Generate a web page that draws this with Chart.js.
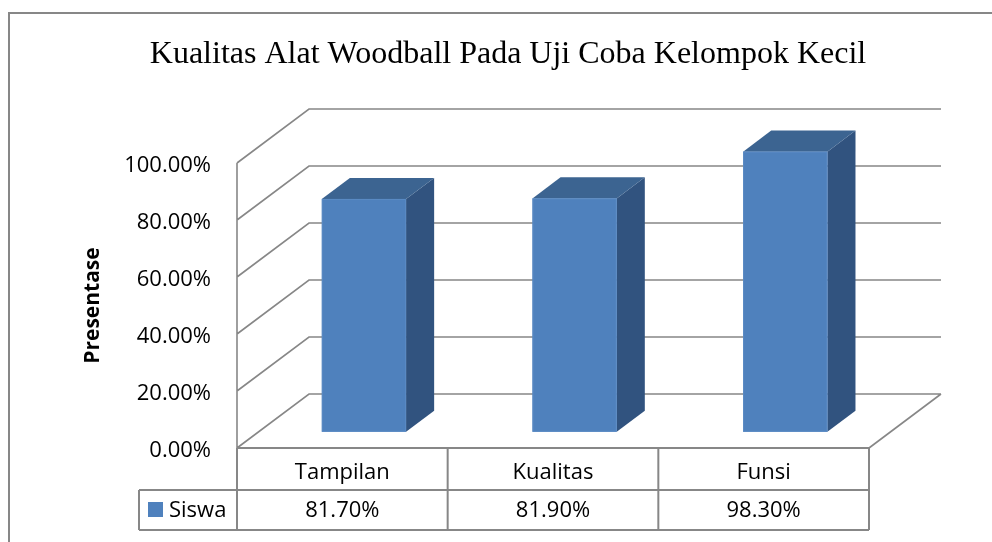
<!DOCTYPE html>
<html>
  <head>
    <meta charset="UTF-8" />
    <title>Kualitas Alat Woodball Pada Uji Coba Kelompok Kecil</title>
    <script src="https://cdn.jsdelivr.net/npm/chart.js"></script>
    <style>
      body {
        margin: 0;
        background: #fff;
      }
      #wrap {
        width: 992px;
        height: 542px;
        position: relative;
      }
    </style>
  </head>
  <body>
    <div id="wrap"><canvas id="woodballChart"></canvas></div>

    <script>
      // Data.
      const chartTitle = "Kualitas Alat Woodball Pada Uji Coba Kelompok Kecil";
      const axisTitle = "Presentase";
      const seriesName = "Siswa";
      const categories = ["Tampilan", "Kualitas", "Funsi"];
      const siswaValues = [0.817, 0.819, 0.983];

      const sansFont = "'Open Sans', sans-serif";
      const gridColor = "#878787";
      const barFront = "#4F81BD";
      const barSide = "#31537F";
      const barTop = "#3C6491";

      // Depth of the 3D box (back wall offset) and the bars' place inside it.
      const depthX = 72;
      const depthY = -54;
      const barStart = 0.3;
      const barEnd = 0.69;

      function pct(v) {
        return (v * 100).toFixed(2) + "%";
      }

      // Draws the frame, title, walls, 3D bars and the data table.
      const threeDPlugin = {
        id: "threeD",
        beforeDraw(chart) {
          const ctx = chart.ctx;
          ctx.save();
          ctx.fillStyle = "#fff";
          ctx.fillRect(0, 0, chart.width, chart.height);
          ctx.strokeStyle = gridColor;
          ctx.lineWidth = 2;
          ctx.strokeRect(9, 13, chart.width + 20, chart.height + 20);
          ctx.fillStyle = "#000";
          ctx.font = "32px 'Liberation Serif', serif";
          ctx.textAlign = "center";
          ctx.textBaseline = "alphabetic";
          ctx.fillText(chartTitle, 508, 63);
          ctx.restore();
        },
        beforeDatasetsDraw(chart) {
          const ctx = chart.ctx;
          const yScale = chart.scales.y;
          const area = chart.chartArea;
          ctx.save();
          ctx.strokeStyle = gridColor;
          ctx.lineWidth = 1.6;
          ctx.beginPath();
          yScale.ticks.forEach(t => {
            const py = yScale.getPixelForValue(t.value);
            // left wall diagonal
            ctx.moveTo(area.left, py);
            ctx.lineTo(area.left + depthX, py + depthY);
            // back wall gridline
            ctx.lineTo(area.right + depthX, py + depthY);
          });
          // front edge of the left wall
          ctx.moveTo(area.left, yScale.getPixelForValue(0));
          ctx.lineTo(area.left, yScale.getPixelForValue(yScale.max));
          // floor right edge
          ctx.moveTo(area.right, yScale.getPixelForValue(0));
          ctx.lineTo(area.right + depthX, yScale.getPixelForValue(0) + depthY);
          ctx.stroke();
          ctx.restore();
        },
        afterDatasetsDraw(chart) {
          const ctx = chart.ctx;
          const meta = chart.getDatasetMeta(0);
          const ox = depthX * barStart;
          const oy = depthY * barStart;
          const bx = depthX * (barEnd - barStart);
          const by = depthY * (barEnd - barStart);
          ctx.save();
          meta.data.forEach(bar => {
            const p = bar.getProps(["x", "y", "base", "width"], true);
            const xl = p.x - p.width / 2 + ox;
            const xr = p.x + p.width / 2 + ox;
            const top = p.y + oy;
            const bottom = p.base + oy;
            // side face
            ctx.fillStyle = barSide;
            ctx.beginPath();
            ctx.moveTo(xr, top);
            ctx.lineTo(xr + bx, top + by);
            ctx.lineTo(xr + bx, bottom + by);
            ctx.lineTo(xr, bottom);
            ctx.closePath();
            ctx.fill();
            // top face
            ctx.fillStyle = barTop;
            ctx.beginPath();
            ctx.moveTo(xl, top);
            ctx.lineTo(xl + bx, top + by);
            ctx.lineTo(xr + bx, top + by);
            ctx.lineTo(xr, top);
            ctx.closePath();
            ctx.fill();
            // front face
            ctx.fillStyle = barFront;
            ctx.fillRect(xl, top, xr - xl, bottom - top);
            ctx.strokeStyle = "#5A8AC4";
            ctx.lineWidth = 1;
            ctx.strokeRect(xl + 0.5, top + 0.5, xr - xl - 1, bottom - top - 1);
          });
          ctx.restore();
        },
        afterDraw(chart) {
          // data table under the plot
          const ctx = chart.ctx;
          const area = chart.chartArea;
          const xScale = chart.scales.x;
          const y0 = chart.scales.y.getPixelForValue(0);
          const rowMid = 490;
          const rowBottom = 530;
          const legendLeft = 139;
          const colW = (area.right - area.left) / categories.length;
          ctx.save();
          ctx.strokeStyle = gridColor;
          ctx.lineWidth = 2;
          ctx.beginPath();
          ctx.moveTo(area.left, y0);
          ctx.lineTo(area.right, y0);
          ctx.moveTo(legendLeft, rowMid);
          ctx.lineTo(area.right, rowMid);
          ctx.moveTo(legendLeft, rowBottom);
          ctx.lineTo(area.right, rowBottom);
          ctx.moveTo(legendLeft, rowMid);
          ctx.lineTo(legendLeft, rowBottom);
          for (let i = 0; i <= categories.length; i++) {
            const cx = area.left + i * colW;
            ctx.moveTo(cx, y0);
            ctx.lineTo(cx, rowBottom);
          }
          ctx.stroke();

          ctx.fillStyle = "#000";
          ctx.font = "22px " + sansFont;
          ctx.textAlign = "center";
          ctx.textBaseline = "middle";
          siswaValues.forEach((v, i) => {
            ctx.fillText(pct(v), xScale.getPixelForValue(i), 511);
          });
          // legend key
          ctx.fillStyle = barFront;
          ctx.fillRect(148, 502, 15, 15);
          ctx.fillStyle = "#000";
          ctx.textAlign = "left";
          ctx.fillText(seriesName, 169, 511);
          ctx.restore();
        }
      };

      const ctx = document.getElementById("woodballChart").getContext("2d");
      const woodballChart = new Chart(ctx, {
        type: "bar",
        data: {
          labels: categories,
          datasets: [
            {
              label: seriesName,
              data: siswaValues,
              backgroundColor: "rgba(0,0,0,0)",
              borderWidth: 0,
              categoryPercentage: 1,
              barPercentage: 0.4
            }
          ]
        },
        options: {
          responsive: true,
          maintainAspectRatio: false,
          animation: false,
          layout: {
            padding: { top: 163, right: 123, bottom: 0, left: 0 }
          },
          plugins: {
            legend: { display: false },
            title: { display: false },
            tooltip: { enabled: false }
          },
          scales: {
            x: {
              grid: { display: false, drawTicks: false },
              border: { display: false },
              ticks: {
                color: "#000",
                padding: 12,
                font: { family: sansFont, size: 22 }
              },
              afterFit(scale) {
                scale.height = 94;
              }
            },
            y: {
              min: 0,
              max: 1,
              grid: { display: false, drawTicks: false },
              border: { display: false },
              ticks: {
                stepSize: 0.2,
                color: "#000",
                padding: 26,
                labelOffset: 3,
                font: { family: sansFont, size: 22 },
                callback: v => pct(v)
              },
              title: {
                display: true,
                text: axisTitle,
                color: "#000",
                padding: { top: 80 },
                font: { family: sansFont, size: 21, weight: "bold" }
              },
              afterFit(scale) {
                scale.width = 237;
              }
            }
          }
        },
        plugins: [threeDPlugin]
      });
    </script>
  </body>
</html>
